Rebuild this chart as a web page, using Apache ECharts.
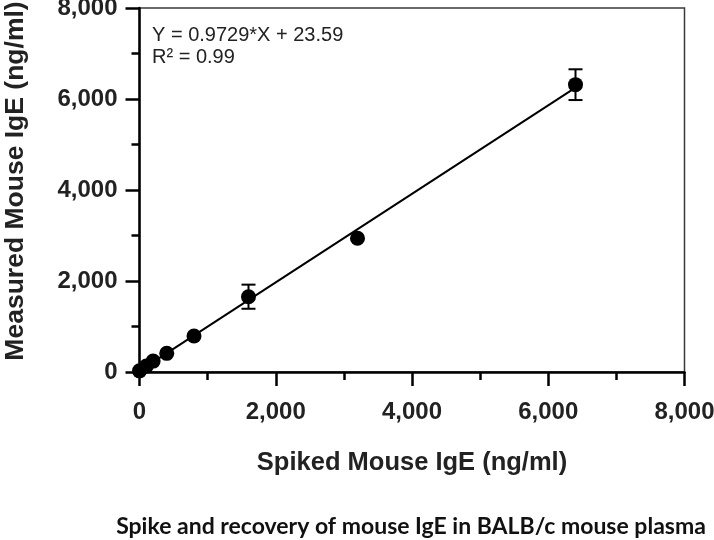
<!DOCTYPE html>
<html>
<head>
<meta charset="utf-8">
<script src="https://cdn.jsdelivr.net/npm/echarts@6/dist/echarts.min.js"></script>
<style>html,body{margin:0;padding:0;background:#fff;}#c{width:714px;height:540px;}</style>
</head>
<body>
<div id="c"></div>
<script>
// Data
var spiked = [0, 100, 200, 400, 800, 1600, 3200, 6400];
var measured = [25, 130, 240, 410, 790, 1655, 2940, 6315];
var errors = [0, 0, 0, 0, 0, 265, 0, 338];
var fitX = [0, 6400];
var fitY = [23.59, 6250];
var xTicks = [0, 2000, 4000, 6000, 8000];
var yTicks = [0, 2000, 4000, 6000, 8000];

var pts = spiked.map(function (x, i) { return [x, measured[i]]; });
var errData = spiked.map(function (x, i) { return [x, measured[i] - errors[i], measured[i] + errors[i]]; })
  .filter(function (d, i) { return errors[i] > 0; });
var fitData = fitX.map(function (x, i) { return [x, fitY[i]]; });

var fmt = function (v) { return Number(v).toLocaleString('en-US'); };
var FONT = '"Liberation Sans", Arial, Helvetica, sans-serif';

var chart = echarts.init(document.getElementById('c'), null, { renderer: 'canvas' });
chart.setOption({
  backgroundColor: '#ffffff',
  animation: false,
  grid: { left: 139.5, right: 29.5, top: 8, bottom: 168, show: true, borderColor: '#3a3a3a', borderWidth: 1.5, containLabel: false, outerBoundsMode: 'none' },
  xAxis: {
    type: 'value', min: xTicks[0], max: xTicks[xTicks.length - 1], interval: 2000,
    name: 'Spiked Mouse IgE (ng/ml)', nameLocation: 'middle', nameGap: 78,
    nameTextStyle: { fontFamily: FONT, fontWeight: 'bold', fontSize: 25.5, color: '#222' },
    axisLine: { show: true, onZero: false, lineStyle: { color: '#000', width: 2.5 } },
    axisTick: { show: true, inside: false, length: 14, lineStyle: { color: '#000', width: 2.5 } },
    minorTick: { show: true, splitNumber: 2, length: 8, lineStyle: { color: '#000', width: 2.5 } },
    splitLine: { show: false },
    axisLabel: { margin: 28, fontFamily: FONT, fontWeight: 'bold', fontSize: 24, color: '#222', formatter: fmt }
  },
  yAxis: {
    type: 'value', min: yTicks[0], max: yTicks[yTicks.length - 1], interval: 2000,
    name: 'Measured Mouse IgE (ng/ml)', nameLocation: 'middle', nameGap: 110,
    nameTextStyle: { fontFamily: FONT, fontWeight: 'bold', fontSize: 26.5, color: '#222', padding: [0, 0, 0, 18] },
    axisLine: { show: true, onZero: false, lineStyle: { color: '#000', width: 2.5 } },
    axisTick: { show: true, inside: false, length: 14, lineStyle: { color: '#000', width: 2.5 } },
    minorTick: { show: true, splitNumber: 2, length: 8, lineStyle: { color: '#000', width: 2.5 } },
    splitLine: { show: false },
    axisLabel: { margin: 22, fontFamily: FONT, fontWeight: 'bold', fontSize: 24, color: '#222', formatter: fmt }
  },
  graphic: [
    { type: 'text', x: 152, y: 35, style: { text: 'Y = 0.9729*X + 23.59', fontFamily: FONT, fontSize: 20, fill: '#222', textVerticalAlign: 'middle' } },
    { type: 'text', x: 152, y: 57, style: { text: 'R² = 0.99', fontFamily: FONT, fontSize: 20, fill: '#222', textVerticalAlign: 'middle' } },
    { type: 'text', x: 411, y: 527, style: { text: 'Spike and recovery of mouse IgE in BALB/c mouse plasma', fontFamily: 'Lato, "Open Sans", sans-serif', fontWeight: 'bold', fontSize: 23, fill: '#111', textAlign: 'center', textVerticalAlign: 'middle' } }
  ],
  series: [
    {
      type: 'line', data: fitData, showSymbol: false, symbol: 'none', z: 2,
      lineStyle: { color: '#000', width: 2 }, silent: true
    },
    {
      type: 'custom', z: 3, silent: true,
      data: errData,
      renderItem: function (params, api) {
        var x = api.value(0);
        var lo = api.coord([x, api.value(1)]);
        var hi = api.coord([x, api.value(2)]);
        var w = 7;
        var st = { stroke: '#000', lineWidth: 2 };
        return { type: 'group', children: [
          { type: 'line', shape: { x1: lo[0], y1: lo[1], x2: hi[0], y2: hi[1] }, style: st },
          { type: 'line', shape: { x1: lo[0] - w, y1: lo[1], x2: lo[0] + w, y2: lo[1] }, style: st },
          { type: 'line', shape: { x1: hi[0] - w, y1: hi[1], x2: hi[0] + w, y2: hi[1] }, style: st }
        ] };
      },
      encode: { x: 0, y: [1, 2] }
    },
    {
      type: 'scatter', data: pts, symbol: 'circle', symbolSize: 15, z: 4,
      itemStyle: { color: '#000', opacity: 1 }, silent: true
    }
  ]
});
</script>
</body>
</html>
